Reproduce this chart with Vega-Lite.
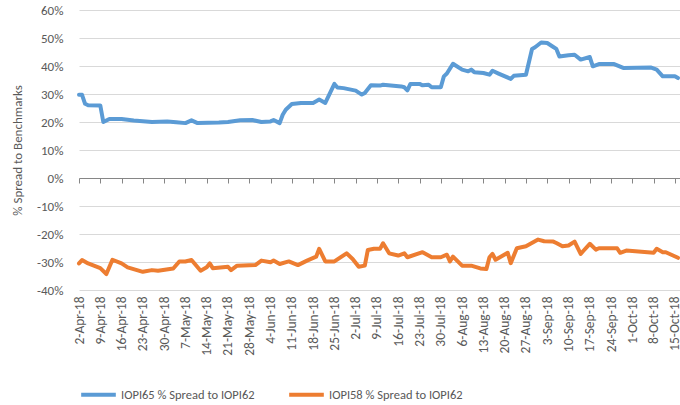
{
  "$schema": "https://vega.github.io/schema/vega-lite/v6.json",
  "width": 601,
  "height": 280,
  "autosize": {"type": "none"},
  "padding": {"left": 79, "top": 10, "right": 0, "bottom": 115},
  "background": "white",
  "config": {
    "view": {"stroke": null},
    "font": "Carlito, 'Liberation Sans Narrow', 'Liberation Sans', sans-serif"
  },
  "data": {"values": [
      {"s": "IOPI65 % Spread to IOPI62", "date": "2018-04-02", "v": 0.297}, {"s": "IOPI65 % Spread to IOPI62", "date": "2018-04-03", "v": 0.297}, {"s": "IOPI65 % Spread to IOPI62", "date": "2018-04-04", "v": 0.265},
      {"s": "IOPI65 % Spread to IOPI62", "date": "2018-04-05", "v": 0.260}, {"s": "IOPI65 % Spread to IOPI62", "date": "2018-04-09", "v": 0.259}, {"s": "IOPI65 % Spread to IOPI62", "date": "2018-04-10", "v": 0.200},
      {"s": "IOPI65 % Spread to IOPI62", "date": "2018-04-12", "v": 0.211}, {"s": "IOPI65 % Spread to IOPI62", "date": "2018-04-16", "v": 0.211}, {"s": "IOPI65 % Spread to IOPI62", "date": "2018-04-20", "v": 0.205},
      {"s": "IOPI65 % Spread to IOPI62", "date": "2018-04-26", "v": 0.200}, {"s": "IOPI65 % Spread to IOPI62", "date": "2018-05-01", "v": 0.202}, {"s": "IOPI65 % Spread to IOPI62", "date": "2018-05-04", "v": 0.199},
      {"s": "IOPI65 % Spread to IOPI62", "date": "2018-05-07", "v": 0.196}, {"s": "IOPI65 % Spread to IOPI62", "date": "2018-05-09", "v": 0.206}, {"s": "IOPI65 % Spread to IOPI62", "date": "2018-05-11", "v": 0.196},
      {"s": "IOPI65 % Spread to IOPI62", "date": "2018-05-18", "v": 0.198}, {"s": "IOPI65 % Spread to IOPI62", "date": "2018-05-21", "v": 0.200}, {"s": "IOPI65 % Spread to IOPI62", "date": "2018-05-25", "v": 0.206},
      {"s": "IOPI65 % Spread to IOPI62", "date": "2018-05-29", "v": 0.207}, {"s": "IOPI65 % Spread to IOPI62", "date": "2018-06-01", "v": 0.200}, {"s": "IOPI65 % Spread to IOPI62", "date": "2018-06-04", "v": 0.202},
      {"s": "IOPI65 % Spread to IOPI62", "date": "2018-06-05", "v": 0.207}, {"s": "IOPI65 % Spread to IOPI62", "date": "2018-06-07", "v": 0.196}, {"s": "IOPI65 % Spread to IOPI62", "date": "2018-06-08", "v": 0.226},
      {"s": "IOPI65 % Spread to IOPI62", "date": "2018-06-09", "v": 0.244}, {"s": "IOPI65 % Spread to IOPI62", "date": "2018-06-11", "v": 0.264}, {"s": "IOPI65 % Spread to IOPI62", "date": "2018-06-14", "v": 0.268},
      {"s": "IOPI65 % Spread to IOPI62", "date": "2018-06-18", "v": 0.268}, {"s": "IOPI65 % Spread to IOPI62", "date": "2018-06-20", "v": 0.280}, {"s": "IOPI65 % Spread to IOPI62", "date": "2018-06-22", "v": 0.268},
      {"s": "IOPI65 % Spread to IOPI62", "date": "2018-06-25", "v": 0.336}, {"s": "IOPI65 % Spread to IOPI62", "date": "2018-06-26", "v": 0.323}, {"s": "IOPI65 % Spread to IOPI62", "date": "2018-06-28", "v": 0.321},
      {"s": "IOPI65 % Spread to IOPI62", "date": "2018-07-02", "v": 0.312}, {"s": "IOPI65 % Spread to IOPI62", "date": "2018-07-04", "v": 0.298}, {"s": "IOPI65 % Spread to IOPI62", "date": "2018-07-05", "v": 0.304},
      {"s": "IOPI65 % Spread to IOPI62", "date": "2018-07-07", "v": 0.331}, {"s": "IOPI65 % Spread to IOPI62", "date": "2018-07-10", "v": 0.330}, {"s": "IOPI65 % Spread to IOPI62", "date": "2018-07-11", "v": 0.333},
      {"s": "IOPI65 % Spread to IOPI62", "date": "2018-07-17", "v": 0.327}, {"s": "IOPI65 % Spread to IOPI62", "date": "2018-07-18", "v": 0.324}, {"s": "IOPI65 % Spread to IOPI62", "date": "2018-07-19", "v": 0.313},
      {"s": "IOPI65 % Spread to IOPI62", "date": "2018-07-20", "v": 0.336}, {"s": "IOPI65 % Spread to IOPI62", "date": "2018-07-23", "v": 0.336}, {"s": "IOPI65 % Spread to IOPI62", "date": "2018-07-24", "v": 0.331},
      {"s": "IOPI65 % Spread to IOPI62", "date": "2018-07-26", "v": 0.333}, {"s": "IOPI65 % Spread to IOPI62", "date": "2018-07-27", "v": 0.324}, {"s": "IOPI65 % Spread to IOPI62", "date": "2018-07-30", "v": 0.324},
      {"s": "IOPI65 % Spread to IOPI62", "date": "2018-07-31", "v": 0.363}, {"s": "IOPI65 % Spread to IOPI62", "date": "2018-08-01", "v": 0.373}, {"s": "IOPI65 % Spread to IOPI62", "date": "2018-08-03", "v": 0.408},
      {"s": "IOPI65 % Spread to IOPI62", "date": "2018-08-04", "v": 0.401}, {"s": "IOPI65 % Spread to IOPI62", "date": "2018-08-06", "v": 0.387}, {"s": "IOPI65 % Spread to IOPI62", "date": "2018-08-08", "v": 0.381},
      {"s": "IOPI65 % Spread to IOPI62", "date": "2018-08-09", "v": 0.387}, {"s": "IOPI65 % Spread to IOPI62", "date": "2018-08-10", "v": 0.378}, {"s": "IOPI65 % Spread to IOPI62", "date": "2018-08-13", "v": 0.375},
      {"s": "IOPI65 % Spread to IOPI62", "date": "2018-08-15", "v": 0.369}, {"s": "IOPI65 % Spread to IOPI62", "date": "2018-08-16", "v": 0.383}, {"s": "IOPI65 % Spread to IOPI62", "date": "2018-08-18", "v": 0.373},
      {"s": "IOPI65 % Spread to IOPI62", "date": "2018-08-22", "v": 0.354}, {"s": "IOPI65 % Spread to IOPI62", "date": "2018-08-23", "v": 0.365}, {"s": "IOPI65 % Spread to IOPI62", "date": "2018-08-27", "v": 0.369},
      {"s": "IOPI65 % Spread to IOPI62", "date": "2018-08-29", "v": 0.461}, {"s": "IOPI65 % Spread to IOPI62", "date": "2018-08-30", "v": 0.467}, {"s": "IOPI65 % Spread to IOPI62", "date": "2018-09-01", "v": 0.484},
      {"s": "IOPI65 % Spread to IOPI62", "date": "2018-09-03", "v": 0.482}, {"s": "IOPI65 % Spread to IOPI62", "date": "2018-09-05", "v": 0.468}, {"s": "IOPI65 % Spread to IOPI62", "date": "2018-09-06", "v": 0.461},
      {"s": "IOPI65 % Spread to IOPI62", "date": "2018-09-07", "v": 0.434}, {"s": "IOPI65 % Spread to IOPI62", "date": "2018-09-10", "v": 0.438}, {"s": "IOPI65 % Spread to IOPI62", "date": "2018-09-12", "v": 0.440},
      {"s": "IOPI65 % Spread to IOPI62", "date": "2018-09-14", "v": 0.423}, {"s": "IOPI65 % Spread to IOPI62", "date": "2018-09-17", "v": 0.432}, {"s": "IOPI65 % Spread to IOPI62", "date": "2018-09-18", "v": 0.399},
      {"s": "IOPI65 % Spread to IOPI62", "date": "2018-09-20", "v": 0.407}, {"s": "IOPI65 % Spread to IOPI62", "date": "2018-09-25", "v": 0.407}, {"s": "IOPI65 % Spread to IOPI62", "date": "2018-09-28", "v": 0.393},
      {"s": "IOPI65 % Spread to IOPI62", "date": "2018-10-07", "v": 0.395}, {"s": "IOPI65 % Spread to IOPI62", "date": "2018-10-09", "v": 0.387}, {"s": "IOPI65 % Spread to IOPI62", "date": "2018-10-11", "v": 0.363},
      {"s": "IOPI65 % Spread to IOPI62", "date": "2018-10-15", "v": 0.363}, {"s": "IOPI65 % Spread to IOPI62", "date": "2018-10-16", "v": 0.357},
      {"s": "IOPI58 % Spread to IOPI62", "date": "2018-04-02", "v": -0.305}, {"s": "IOPI58 % Spread to IOPI62", "date": "2018-04-03", "v": -0.293}, {"s": "IOPI58 % Spread to IOPI62", "date": "2018-04-05", "v": -0.305},
      {"s": "IOPI58 % Spread to IOPI62", "date": "2018-04-09", "v": -0.322}, {"s": "IOPI58 % Spread to IOPI62", "date": "2018-04-11", "v": -0.343}, {"s": "IOPI58 % Spread to IOPI62", "date": "2018-04-13", "v": -0.292},
      {"s": "IOPI58 % Spread to IOPI62", "date": "2018-04-16", "v": -0.305}, {"s": "IOPI58 % Spread to IOPI62", "date": "2018-04-18", "v": -0.319}, {"s": "IOPI58 % Spread to IOPI62", "date": "2018-04-23", "v": -0.335},
      {"s": "IOPI58 % Spread to IOPI62", "date": "2018-04-26", "v": -0.329}, {"s": "IOPI58 % Spread to IOPI62", "date": "2018-04-28", "v": -0.331}, {"s": "IOPI58 % Spread to IOPI62", "date": "2018-05-03", "v": -0.323},
      {"s": "IOPI58 % Spread to IOPI62", "date": "2018-05-05", "v": -0.298}, {"s": "IOPI58 % Spread to IOPI62", "date": "2018-05-07", "v": -0.298}, {"s": "IOPI58 % Spread to IOPI62", "date": "2018-05-09", "v": -0.293},
      {"s": "IOPI58 % Spread to IOPI62", "date": "2018-05-12", "v": -0.331}, {"s": "IOPI58 % Spread to IOPI62", "date": "2018-05-14", "v": -0.319}, {"s": "IOPI58 % Spread to IOPI62", "date": "2018-05-15", "v": -0.305},
      {"s": "IOPI58 % Spread to IOPI62", "date": "2018-05-16", "v": -0.322}, {"s": "IOPI58 % Spread to IOPI62", "date": "2018-05-21", "v": -0.317}, {"s": "IOPI58 % Spread to IOPI62", "date": "2018-05-22", "v": -0.329},
      {"s": "IOPI58 % Spread to IOPI62", "date": "2018-05-24", "v": -0.313}, {"s": "IOPI58 % Spread to IOPI62", "date": "2018-05-30", "v": -0.311}, {"s": "IOPI58 % Spread to IOPI62", "date": "2018-06-01", "v": -0.295},
      {"s": "IOPI58 % Spread to IOPI62", "date": "2018-06-04", "v": -0.301}, {"s": "IOPI58 % Spread to IOPI62", "date": "2018-06-05", "v": -0.295}, {"s": "IOPI58 % Spread to IOPI62", "date": "2018-06-07", "v": -0.307},
      {"s": "IOPI58 % Spread to IOPI62", "date": "2018-06-10", "v": -0.298}, {"s": "IOPI58 % Spread to IOPI62", "date": "2018-06-13", "v": -0.311}, {"s": "IOPI58 % Spread to IOPI62", "date": "2018-06-16", "v": -0.295},
      {"s": "IOPI58 % Spread to IOPI62", "date": "2018-06-19", "v": -0.281}, {"s": "IOPI58 % Spread to IOPI62", "date": "2018-06-20", "v": -0.253}, {"s": "IOPI58 % Spread to IOPI62", "date": "2018-06-22", "v": -0.298},
      {"s": "IOPI58 % Spread to IOPI62", "date": "2018-06-25", "v": -0.298}, {"s": "IOPI58 % Spread to IOPI62", "date": "2018-06-29", "v": -0.269}, {"s": "IOPI58 % Spread to IOPI62", "date": "2018-07-01", "v": -0.289},
      {"s": "IOPI58 % Spread to IOPI62", "date": "2018-07-03", "v": -0.317}, {"s": "IOPI58 % Spread to IOPI62", "date": "2018-07-05", "v": -0.313}, {"s": "IOPI58 % Spread to IOPI62", "date": "2018-07-06", "v": -0.257},
      {"s": "IOPI58 % Spread to IOPI62", "date": "2018-07-08", "v": -0.253}, {"s": "IOPI58 % Spread to IOPI62", "date": "2018-07-10", "v": -0.253}, {"s": "IOPI58 % Spread to IOPI62", "date": "2018-07-11", "v": -0.233},
      {"s": "IOPI58 % Spread to IOPI62", "date": "2018-07-13", "v": -0.269}, {"s": "IOPI58 % Spread to IOPI62", "date": "2018-07-16", "v": -0.277}, {"s": "IOPI58 % Spread to IOPI62", "date": "2018-07-18", "v": -0.269},
      {"s": "IOPI58 % Spread to IOPI62", "date": "2018-07-19", "v": -0.283}, {"s": "IOPI58 % Spread to IOPI62", "date": "2018-07-24", "v": -0.265}, {"s": "IOPI58 % Spread to IOPI62", "date": "2018-07-27", "v": -0.283},
      {"s": "IOPI58 % Spread to IOPI62", "date": "2018-07-30", "v": -0.283}, {"s": "IOPI58 % Spread to IOPI62", "date": "2018-08-01", "v": -0.274}, {"s": "IOPI58 % Spread to IOPI62", "date": "2018-08-02", "v": -0.298},
      {"s": "IOPI58 % Spread to IOPI62", "date": "2018-08-03", "v": -0.281}, {"s": "IOPI58 % Spread to IOPI62", "date": "2018-08-06", "v": -0.313}, {"s": "IOPI58 % Spread to IOPI62", "date": "2018-08-09", "v": -0.313},
      {"s": "IOPI58 % Spread to IOPI62", "date": "2018-08-12", "v": -0.323}, {"s": "IOPI58 % Spread to IOPI62", "date": "2018-08-14", "v": -0.325}, {"s": "IOPI58 % Spread to IOPI62", "date": "2018-08-15", "v": -0.283},
      {"s": "IOPI58 % Spread to IOPI62", "date": "2018-08-16", "v": -0.271}, {"s": "IOPI58 % Spread to IOPI62", "date": "2018-08-17", "v": -0.292}, {"s": "IOPI58 % Spread to IOPI62", "date": "2018-08-21", "v": -0.267},
      {"s": "IOPI58 % Spread to IOPI62", "date": "2018-08-22", "v": -0.304}, {"s": "IOPI58 % Spread to IOPI62", "date": "2018-08-24", "v": -0.251}, {"s": "IOPI58 % Spread to IOPI62", "date": "2018-08-27", "v": -0.244},
      {"s": "IOPI58 % Spread to IOPI62", "date": "2018-08-31", "v": -0.220}, {"s": "IOPI58 % Spread to IOPI62", "date": "2018-09-02", "v": -0.226}, {"s": "IOPI58 % Spread to IOPI62", "date": "2018-09-05", "v": -0.227},
      {"s": "IOPI58 % Spread to IOPI62", "date": "2018-09-06", "v": -0.232}, {"s": "IOPI58 % Spread to IOPI62", "date": "2018-09-08", "v": -0.244}, {"s": "IOPI58 % Spread to IOPI62", "date": "2018-09-10", "v": -0.241},
      {"s": "IOPI58 % Spread to IOPI62", "date": "2018-09-12", "v": -0.227}, {"s": "IOPI58 % Spread to IOPI62", "date": "2018-09-14", "v": -0.271}, {"s": "IOPI58 % Spread to IOPI62", "date": "2018-09-15", "v": -0.259},
      {"s": "IOPI58 % Spread to IOPI62", "date": "2018-09-17", "v": -0.235}, {"s": "IOPI58 % Spread to IOPI62", "date": "2018-09-19", "v": -0.256}, {"s": "IOPI58 % Spread to IOPI62", "date": "2018-09-20", "v": -0.251},
      {"s": "IOPI58 % Spread to IOPI62", "date": "2018-09-26", "v": -0.251}, {"s": "IOPI58 % Spread to IOPI62", "date": "2018-09-27", "v": -0.267}, {"s": "IOPI58 % Spread to IOPI62", "date": "2018-09-29", "v": -0.259},
      {"s": "IOPI58 % Spread to IOPI62", "date": "2018-10-08", "v": -0.267}, {"s": "IOPI58 % Spread to IOPI62", "date": "2018-10-09", "v": -0.253}, {"s": "IOPI58 % Spread to IOPI62", "date": "2018-10-11", "v": -0.265},
      {"s": "IOPI58 % Spread to IOPI62", "date": "2018-10-12", "v": -0.265}, {"s": "IOPI58 % Spread to IOPI62", "date": "2018-10-16", "v": -0.285}
  ]},
  "mark": {"type": "line", "strokeWidth": 4, "strokeCap": "round", "strokeJoin": "round"},
  "encoding": {
    "x": {
      "field": "date", "type": "temporal",
      "scale": {"type": "utc", "domain": [{"year": 2018, "month": 4, "date": 2, "utc": true}, {"year": 2018, "month": 10, "date": 16, "hours": 16, "utc": true}]},
      "axis": {
        "title": null,
        "labelExpr": "utcFormat(datum.value, '%-d-%b-%y')",
        "values": [
          {"year": 2018, "month": 4, "date": 2, "utc": true}, {"year": 2018, "month": 4, "date": 9, "utc": true},
          {"year": 2018, "month": 4, "date": 16, "utc": true}, {"year": 2018, "month": 4, "date": 23, "utc": true},
          {"year": 2018, "month": 4, "date": 30, "utc": true}, {"year": 2018, "month": 5, "date": 7, "utc": true},
          {"year": 2018, "month": 5, "date": 14, "utc": true}, {"year": 2018, "month": 5, "date": 21, "utc": true},
          {"year": 2018, "month": 5, "date": 28, "utc": true}, {"year": 2018, "month": 6, "date": 4, "utc": true},
          {"year": 2018, "month": 6, "date": 11, "utc": true}, {"year": 2018, "month": 6, "date": 18, "utc": true},
          {"year": 2018, "month": 6, "date": 25, "utc": true}, {"year": 2018, "month": 7, "date": 2, "utc": true},
          {"year": 2018, "month": 7, "date": 9, "utc": true}, {"year": 2018, "month": 7, "date": 16, "utc": true},
          {"year": 2018, "month": 7, "date": 23, "utc": true}, {"year": 2018, "month": 7, "date": 30, "utc": true},
          {"year": 2018, "month": 8, "date": 6, "utc": true}, {"year": 2018, "month": 8, "date": 13, "utc": true},
          {"year": 2018, "month": 8, "date": 20, "utc": true}, {"year": 2018, "month": 8, "date": 27, "utc": true},
          {"year": 2018, "month": 9, "date": 3, "utc": true}, {"year": 2018, "month": 9, "date": 10, "utc": true},
          {"year": 2018, "month": 9, "date": 17, "utc": true}, {"year": 2018, "month": 9, "date": 24, "utc": true},
          {"year": 2018, "month": 10, "date": 1, "utc": true}, {"year": 2018, "month": 10, "date": 8, "utc": true},
          {"year": 2018, "month": 10, "date": 15, "utc": true}
        ],
        "offset": -112,
        "grid": false,
        "domainColor": "#868686", "domainWidth": 1,
        "tickColor": "#868686", "tickSize": 5, "tickWidth": 1,
        "labelAngle": -90, "labelPadding": 113,
        "labelFontSize": 13.5, "labelColor": "#595959",
        "labelOverlap": false, "labelFlush": false, "labelBound": false
      }
    },
    "y": {
      "field": "v", "type": "quantitative",
      "scale": {"domain": [-0.4, 0.6], "nice": false, "zero": false},
      "axis": {
        "title": "% Spread to Benchmarks",
        "titleFontSize": 13, "titleFontWeight": "normal", "titleColor": "#595959", "titlePadding": 12,
        "values": [-0.4, -0.3, -0.2, -0.1, 0, 0.1, 0.2, 0.3, 0.4, 0.5, 0.6],
        "format": ".0%",
        "labelExpr": "replace(datum.label, '\u2212', '-')",
        "labelFontSize": 13, "labelColor": "#595959", "labelPadding": 16,
        "ticks": false, "domain": false,
        "gridColor": "#D9D9D9", "gridWidth": 1
      }
    },
    "color": {
      "field": "s", "type": "nominal",
      "scale": {"domain": ["IOPI65 % Spread to IOPI62", "IOPI58 % Spread to IOPI62"], "range": ["#5B9BD5", "#ED7D31"]},
      "legend": {
        "title": null, "orient": "none", "legendX": 0, "legendY": 365,
        "direction": "horizontal", "columns": 2, "columnPadding": 26,
        "symbolType": "stroke", "symbolStrokeWidth": 4, "symbolSize": 1200,
        "labelFontSize": 12.5, "labelColor": "#595959", "labelOffset": 3
      }
    }
  }
}
